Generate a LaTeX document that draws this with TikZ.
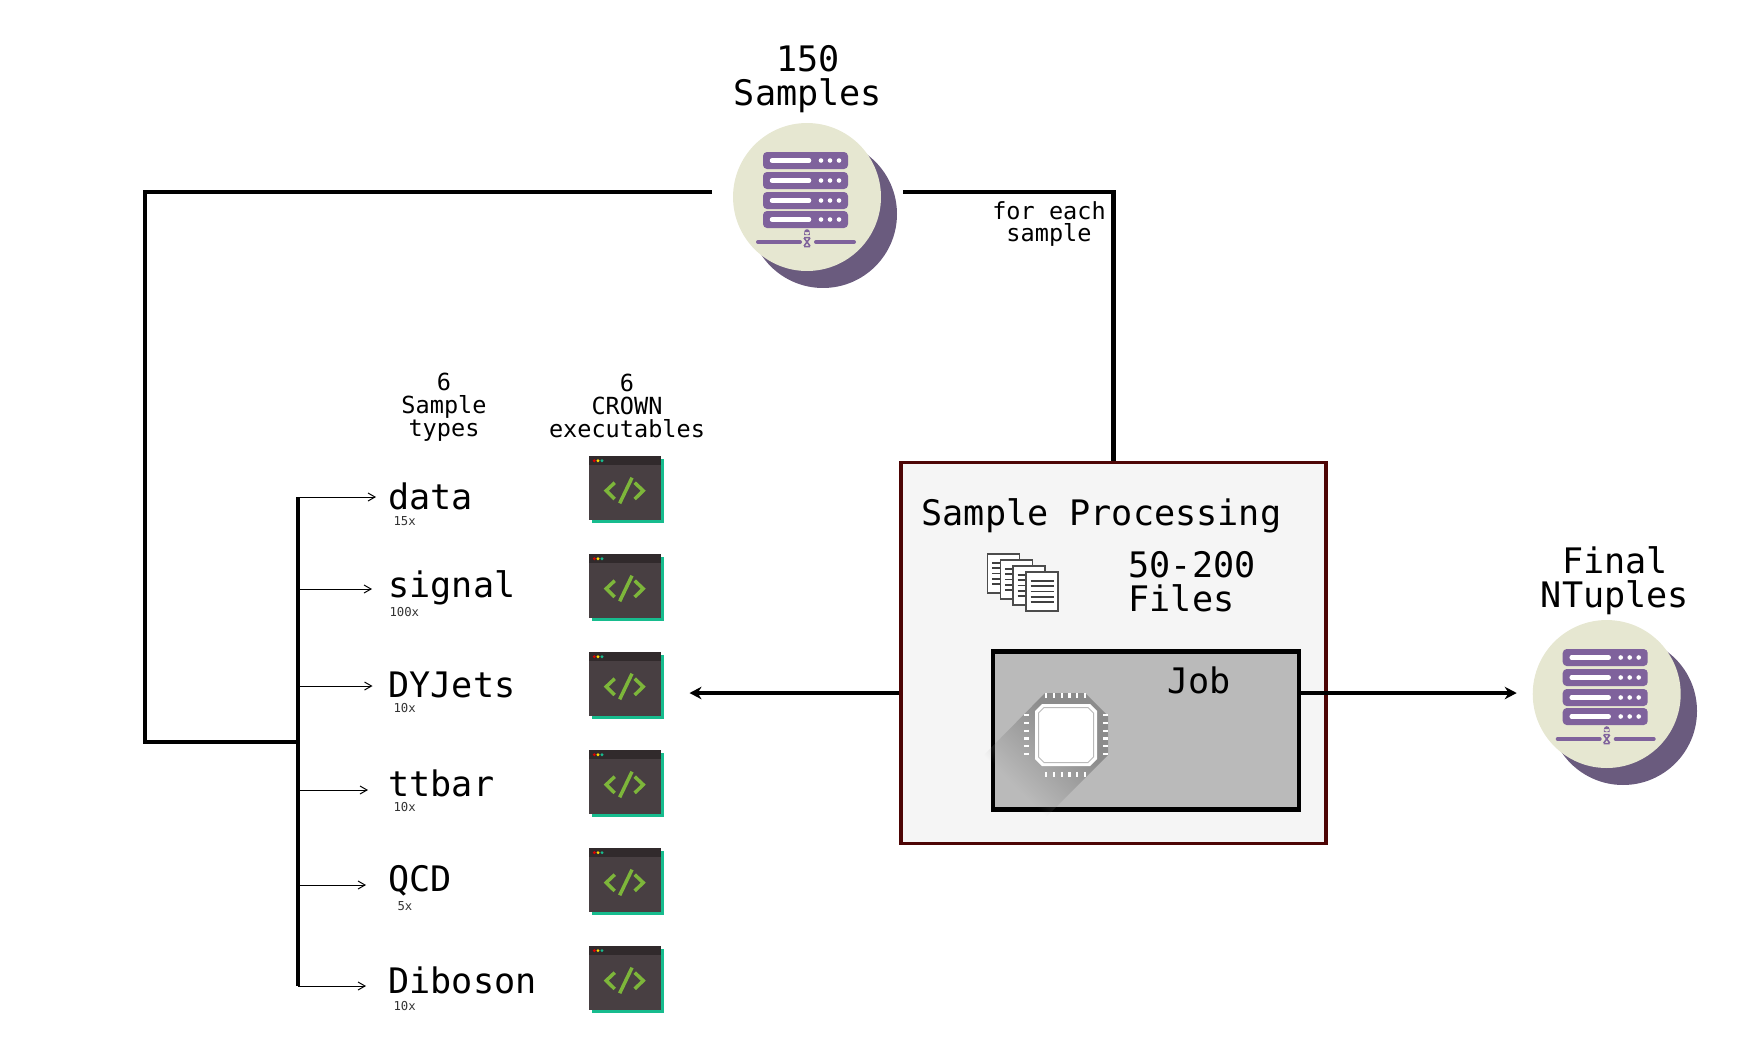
\documentclass[tikz,border=0pt]{standalone}
\usepackage{fontspec}
\setmainfont{DejaVu Sans Mono}
\usepackage{tikz}
\usetikzlibrary{arrows.meta,fadings,shadows}

\definecolor{disc}{HTML}{E6E7D1}
\definecolor{disc shade}{HTML}{6A5B7E}
\definecolor{rack}{HTML}{7F629C}
\definecolor{win body}{HTML}{483F42}
\definecolor{win bar}{HTML}{312A2C}
\definecolor{win edge}{HTML}{17BC8E}
\definecolor{code green}{HTML}{7DB63A}
\definecolor{box red}{HTML}{4D0505}

\pgfdeclareverticalshading{chip shading}{100bp}{color(0bp)=(pgftransparent!100); color(33bp)=(pgftransparent!100); color(64bp)=(pgftransparent!0); color(100bp)=(pgftransparent!0)}
\pgfdeclarefading{chip fade}{\pgfuseshading{chip shading}}

\begin{document}
\begin{tikzpicture}
                [
                    x=0.02cm,
                    y=-0.02cm,
                    semithick,
                    trunk/.style={-, line width=0.085cm, line join=miter},
                    branch/.style={-{Straight Barb[length=0.14cm,width=0.16cm]}, line width=0.02cm},
                    flow/.style={-{Stealth[length=0.24cm,width=0.25cm]}, line width=0.085cm},
                    big text/.style={font=\fontsize{20}{19.4}\selectfont, align=center, inner sep=0pt},
                    mid text/.style={font=\fontsize{13.4}{13}\selectfont, align=center, inner sep=0pt},
                    count text/.style={font=\fontsize{7}{7}\selectfont, text=black!80, inner sep=0pt, anchor=base west},
                    type text/.style={big text, anchor=base west},
                    server/.style={shape=circle, fill=disc, minimum size=2.96cm, inner sep=0pt},
                    server shade/.style={shape=circle, fill=disc shade, minimum size=2.96cm, inner sep=0pt},
                    exe win/.style={
                        shape=rectangle, fill=win body, inner sep=0pt,
                        minimum width=1.44cm, minimum height=1.28cm,
                        drop shadow={shadow xshift=0.06cm, shadow yshift=-0.06cm, fill=win edge, opacity=1}
                    },
                    proc box/.style={shape=rectangle, draw=box red, fill=black!4, line width=0.07cm, minimum width=8.506cm, minimum height=7.63cm},
                    job box/.style={shape=rectangle, draw=black, fill=black!27, line width=0.09cm, minimum width=6.13cm, minimum height=3.16cm},
                    pin row/.style={white, line width=0.1cm, dash pattern=on 0.045cm off 0.11cm},
                    rack unit/.pic={
                        \fill [rack, rounded corners=0.08cm] (-44,-8.5) rectangle (41,8.5);
                        \draw [white, line width=0.09cm, line cap=round] (-35,0) -- (2,0);
                        \fill [white] (14,0) circle (2.3) (23,0) circle (2.3) (32,0) circle (2.3);
                    },
                    rack icon/.pic={
                        \pic at (0,-36.5) {rack unit};
                        \pic at (0,-16.5) {rack unit};
                        \pic at (0,3.5) {rack unit};
                        \pic at (0,22.5) {rack unit};
                        \draw [rack, line width=0.08cm, line cap=round] (-49,45) -- (-7,45) (9,45) -- (47,45);
                        \fill [rack] (0,35) circle (2.8) (-2.8,35) rectangle (2.8,38);
                        \draw [rack, line width=0.03cm] (-3,40.5) -- (3,40.5) (-3,49.5) -- (3,49.5) (-3,41) -- (3,49) (3,41) -- (-3,49);
                    },
                    code glyph/.pic={
                        \fill [win bar] (-36,-32) rectangle (36,-23);
                        \fill [red!85!black] (-30.7,-27.3) circle (1.6);
                        \fill [yellow!80!orange] (-27,-27.3) circle (1.6);
                        \fill [win edge] (-23,-27.3) circle (1.6);
                        \draw [code green, line width=0.07cm] (-10.3,-5.3) -- (-18.8,2.7) -- (-10.3,11);
                        \draw [code green, line width=0.07cm] (9.7,-5.3) -- (18.2,2.7) -- (9.7,11);
                        \draw [code green, line width=0.07cm] (7,-10.3) -- (-5.3,15.3);
                    },
                    page sheet/.pic={
                        \draw [fill=white, draw=black!70, line width=0.025cm] (0,0) rectangle (32,39);
                        \draw [black!75, line width=0.035cm]
                              (4.5,9) -- (27.5,9) (4.5,14) -- (27.5,14) (4.5,19.5) -- (27.5,19.5)
                              (4.5,25) -- (27.5,25) (4.5,30) -- (27.5,30);
                    },
                    chip icon/.pic={
                        \fill [black!45, path fading=chip fade, fading angle=-45]
                              (-21,-42) -- (19,-42) -- (42,-19) -- (42,20) -- (-21,83) -- (-84,22) -- cycle;
                        \fill [white] (-24,-31) -- (24,-31) -- (31,-24) -- (31,24) -- (24,31) -- (-24,31) -- (-31,24) -- (-31,-24) -- cycle;
                        \draw [black!27, line width=0.02cm] (-22,-27.5) -- (22,-27.5) -- (27.5,-22) -- (27.5,22) -- (22,27.5) -- (-22,27.5) -- (-27.5,22) -- (-27.5,-22) -- cycle;
                        \draw [pin row] (-21,-39.5) -- (21,-39.5);
                        \draw [pin row] (-21,39.5) -- (21,39.5);
                        \draw [pin row] (-39.5,-21) -- (-39.5,21);
                        \draw [pin row] (39.5,-21) -- (39.5,21);
                    }
                ]
                \useasboundingbox (0,0) rectangle (1746,1049);

                % first server and the loop round to the sample types
                \node (samples shade) [server shade] at (823,214) {};
                \node (samples) [server] at (807,197) {};
                \pic at (samples) {rack icon};
                \node (samples title) [big text] at (808,79) {150\\Samples};
                \node (each label) [mid text] at (1049,224) {for each\\sample};

                \node (types title) [mid text] at (444,407) {6\\Sample\\types};
                \node (exe title) [mid text] at (627,406) {6\\CROWN\\executables};

                \coordinate (gap w) at (712,192);
                \coordinate (gap e) at (903,192);
                \coordinate (loop sw) at (145,742);
                \coordinate (spine mid) at (298,742);

                % sample types
                \node (type data) [type text] at (388,509) {data};
                \node (type signal) [type text] at (388,597) {signal};
                \node (type dyjets) [type text] at (388,697) {DYJets};
                \node (type ttbar) [type text] at (388,796) {ttbar};
                \node (type qcd) [type text] at (388,891) {QCD};
                \node (type diboson) [type text] at (388,993) {Diboson};

                \node (count data) [count text] at (393,525) {15x};
                \node (count signal) [count text] at (389,616) {100x};
                \node (count dyjets) [count text] at (393,712) {10x};
                \node (count ttbar) [count text] at (393,811) {10x};
                \node (count qcd) [count text] at (397,910) {5x};
                \node (count diboson) [count text] at (393,1010) {10x};

                \coordinate (spine data) at (298,497);
                \coordinate (spine signal) at (298,589);
                \coordinate (spine dyjets) at (298,686);
                \coordinate (spine ttbar) at (298,790);
                \coordinate (spine qcd) at (298,885);
                \coordinate (spine diboson) at (298,986);

                \path
                (spine data) edge [branch, shorten >=0.24cm] (spine data -| type data.west)
                (spine signal) edge [branch, shorten >=0.32cm] (spine signal -| type signal.west)
                (spine dyjets) edge [branch, shorten >=0.31cm] (spine dyjets -| type dyjets.west)
                (spine ttbar) edge [branch, shorten >=0.4cm] (spine ttbar -| type ttbar.west)
                (spine qcd) edge [branch, shorten >=0.44cm] (spine qcd -| type qcd.west)
                (spine diboson) edge [branch, shorten >=0.44cm] (spine diboson -| type diboson.west)
                ;

                \draw [trunk] (gap w) -| (loop sw) -- (spine mid);
                \draw [trunk] (spine data) -- (spine diboson);

                % executables
                \node (exe data) [exe win] at (625,488) {};
                \node (exe signal) [exe win, below of=exe data, node distance=1.96cm] {};
                \node (exe dyjets) [exe win, below of=exe signal, node distance=1.96cm] {};
                \node (exe ttbar) [exe win, below of=exe dyjets, node distance=1.96cm] {};
                \node (exe qcd) [exe win, below of=exe ttbar, node distance=1.96cm] {};
                \node (exe diboson) [exe win, below of=exe qcd, node distance=1.96cm] {};
                \pic at (exe data) {code glyph};
                \pic at (exe signal) {code glyph};
                \pic at (exe dyjets) {code glyph};
                \pic at (exe ttbar) {code glyph};
                \pic at (exe qcd) {code glyph};
                \pic at (exe diboson) {code glyph};

                % processing box
                \node (proc) [proc box] at (1113.4,653) {};
                \draw [trunk] (gap e) -| (proc.north);
                \node (job) [job box] at (1146,730.5) {};
                \pic at (1066,735) {chip icon};
                \node (proc title) [big text, anchor=base west] at (921,525) {Sample Processing};
                \node (files label) [big text, align=left] at (1192,581.5) {50-200\\Files};
                \node (job label) [big text] at (1199,680) {Job};
                \pic at (987.7,554) {page sheet};
                \pic at (1000.4,560) {page sheet};
                \pic at (1013,566) {page sheet};
                \pic at (1026,572) {page sheet};

                % second server
                \node (final shade) [server shade] at (1623,711) {};
                \node (final) [server] at (1606.7,694) {};
                \pic at (final) {rack icon};
                \node (final title) [big text] at (1615,581) {Final\\NTuples};

                \coordinate (flow line) at (0,693);
                \draw [flow, shorten >=0.56cm] (proc.west |- flow line) -- (exe dyjets.east |- flow line);
                \draw [flow, shorten >=0.31cm] (job.east |- flow line) -- (final.west |- flow line);

            \end{tikzpicture}
\end{document}
